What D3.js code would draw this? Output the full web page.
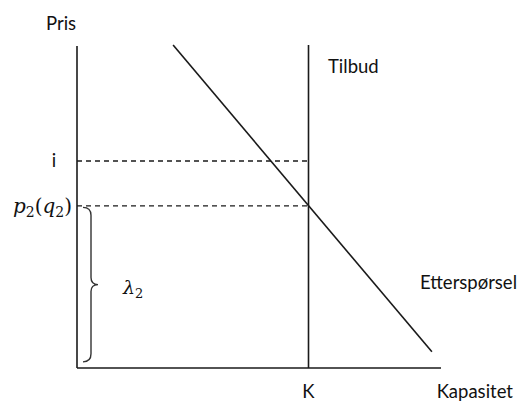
<!DOCTYPE html>
<html><head><meta charset="utf-8">
<script src="https://cdn.jsdelivr.net/npm/d3@7"></script>
<style>html,body{margin:0;padding:0;background:#fff;}</style>
</head><body>
<svg id="c" width="519" height="403"></svg>
<script>
// Data (model units)
const xDomain = [0, 100];
const yDomain = [0, 100];
const capacityK = 63.6;          // vertical supply (Tilbud)
const priceI = 64.1;             // level "i"
const priceP2 = 50.2;            // level p2(q2)
const braceBottom = 1.9;         // lower end of λ2 brace
const demand = [[26.4, 100], [97.5, 5]];  // Etterspørsel line
const axisLabels = {y: "Pris", x: "Kapasitet"};
const lineLabels = {supply: "Tilbud", demand: "Etterspørsel", k: "K", i: "i"};

const svg = d3.select("#c");
const x = d3.scaleLinear().domain(xDomain).range([77, 441]);
const y = d3.scaleLinear().domain(yDomain).range([368, 45]);
const ink = "#1a1a1a";
const font = "Lato, 'Open Sans', sans-serif";

// axes
svg.append("line").attr("x1", x(0)).attr("x2", x(0)).attr("y1", y(0)).attr("y2", y(100) + 1)
  .attr("stroke", ink).attr("stroke-width", 1.6);
svg.append("line").attr("x1", x(0)).attr("x2", x(100)).attr("y1", y(0)).attr("y2", y(0))
  .attr("stroke", ink).attr("stroke-width", 1.6);

// supply vertical
svg.append("line").attr("x1", x(capacityK)).attr("x2", x(capacityK)).attr("y1", y(0)).attr("y2", y(100))
  .attr("stroke", ink).attr("stroke-width", 1.6);

// demand
svg.append("path").attr("d", d3.line().x(d => x(d[0])).y(d => y(d[1]))(demand))
  .attr("stroke", ink).attr("stroke-width", 1.6).attr("fill", "none");

// dashed levels
[priceI, priceP2].forEach(v => {
  svg.append("line").attr("x1", x(0)).attr("x2", x(capacityK)).attr("y1", y(v)).attr("y2", y(v))
    .attr("stroke", ink).attr("stroke-width", 1.4).attr("stroke-dasharray", "5,4");
});

// brace
const bt = y(priceP2) + 1.5, bb = y(braceBottom), bm = (bt + bb) / 2;
const bx0 = x(0) + 6, bx1 = x(0) + 14, bx2 = x(0) + 21;
const bp = d3.path();
bp.moveTo(bx0, bt);
bp.quadraticCurveTo(bx1, bt, bx1, bt + 8);
bp.lineTo(bx1, bm - 7);
bp.quadraticCurveTo(bx1, bm, bx2, bm);
bp.quadraticCurveTo(bx1, bm, bx1, bm + 7);
bp.lineTo(bx1, bb - 8);
bp.quadraticCurveTo(bx1, bb, bx0, bb);
svg.append("path").attr("d", bp.toString()).attr("stroke", "#333").attr("stroke-width", 1.4).attr("fill", "none");

// texts
const txt = (s, px, py, anchor = "start", size = 18.5) =>
  svg.append("text").attr("x", px).attr("y", py).attr("text-anchor", anchor)
    .attr("font-family", font).attr("font-size", size).attr("fill", "#111").text(s);

txt(axisLabels.y, 46, 30);
txt(axisLabels.x, 513, 398, "end");
txt(lineLabels.k, x(capacityK), 398, "middle");
txt(lineLabels.supply, 328, 73);
txt(lineLabels.demand, 517, 289, "end");
txt(lineLabels.i, 54, y(priceI) + 6, "middle");

// p2(q2) math label
const mf = "'DejaVu Serif', 'Liberation Serif', serif";
const p2 = svg.append("text").attr("x", 72).attr("y", y(priceP2) + 7).attr("text-anchor", "end")
  .attr("font-family", mf).attr("font-size", 20).attr("fill", "#111");
p2.append("tspan").attr("font-style", "italic").text("p");
p2.append("tspan").attr("font-size", 14).attr("dy", 4).text("2");
p2.append("tspan").attr("dy", -4).text("(");
p2.append("tspan").attr("font-style", "italic").text("q");
p2.append("tspan").attr("font-size", 14).attr("dy", 4).text("2");
p2.append("tspan").attr("dy", -4).text(")");

// lambda2
const lam = svg.append("text").attr("x", 123).attr("y", bm + 9)
  .attr("font-family", mf).attr("font-size", 19).attr("fill", "#111");
lam.append("tspan").attr("font-style", "italic").text("λ");
lam.append("tspan").attr("font-size", 13).attr("dy", 4).text("2");
</script>
</body></html>
